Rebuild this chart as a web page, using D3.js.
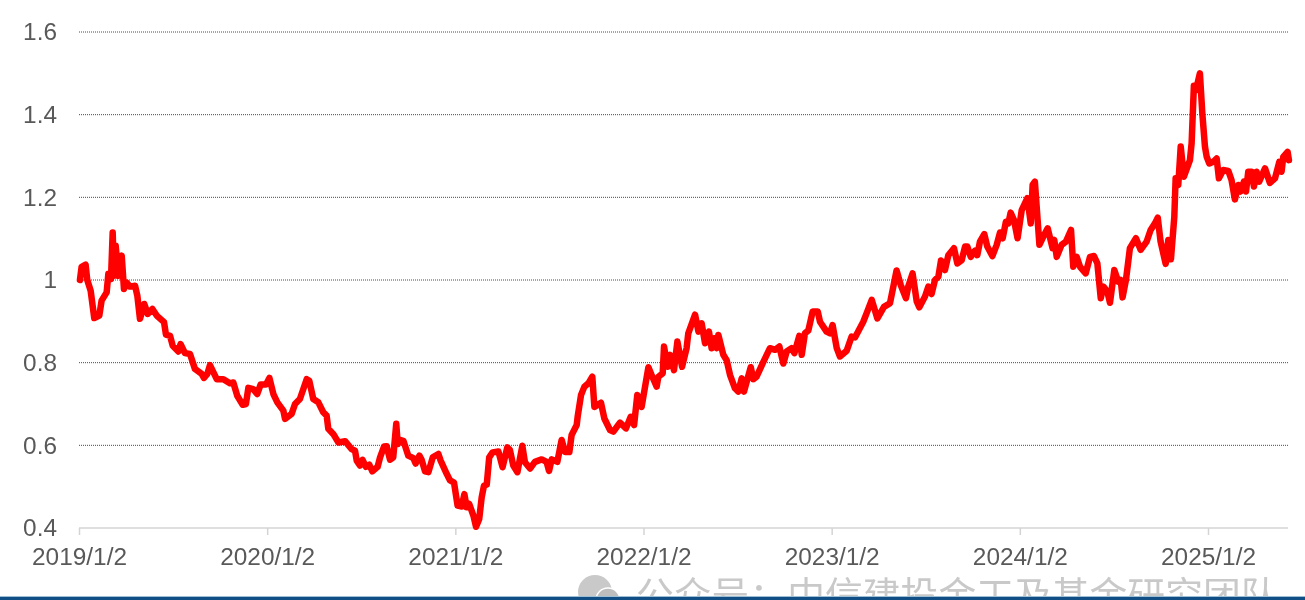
<!DOCTYPE html>
<html lang="zh">
<head>
<meta charset="utf-8">
<script src="https://cdn.jsdelivr.net/npm/d3@7/dist/d3.min.js"></script>
<style>
html,body{margin:0;padding:0;background:#fff;overflow:hidden}
svg{display:block;filter:blur(0.45px)}
text{font-family:"Liberation Sans",Arial,sans-serif}
</style>
</head>
<body>
<svg id="chart" width="1305" height="600"></svg>
<script>
const xTickYears = [0,1,2,3,4,5,6];
const xTickLabels = ["2019/1/2","2020/1/2","2021/1/2","2022/1/2","2023/1/2","2024/1/2","2025/1/2"];
const yTickValues = [0.4,0.6,0.8,1.0,1.2,1.4,1.6];
const yTickLabels = ["0.4","0.6","0.8","1","1.2","1.4","1.6"];
const watermarkText = "公众号：中信建投金工及基金研究团队";

// years elapsed since 2019/1/2
const yearsSinceStart = [
.005,.014,.035,.044,.062,.081,.108,.120,.147,.156,.170,.179,.186,.195,.209,.227,.239,.253,.271,.298,
.310,.324,.347,.365,.390,.413,.452,.462,.484,.498,.528,.540,.563,.590,.616,.652,.664,.682,.696,.732,
.767,.802,.820,.841,.870,.887,.900,.926,.947,.965,.994,1.012,1.033,1.054,1.086,1.095,1.130,1.148,1.174,1.21,
1.224,1.245,1.272,1.298,1.316,1.325,1.352,1.378,1.414,1.449,1.467,1.476,1.493,1.507,1.525,1.543,1.559,1.587,1.60,1.621,
1.635,1.653,1.67,1.686,1.694,1.706,1.724,1.75,1.777,1.789,1.809,1.821,1.839,1.857,1.88,1.91,1.922,1.954,1.972,1.993,
2.012,2.034,2.048,2.06,2.074,2.096,2.110,2.127,2.14,2.152,2.167,2.18,2.198,2.229,2.251,2.276,2.29,2.308,2.33,2.356,
2.37,2.397,2.423,2.459,2.485,2.498,2.512,2.542,2.565,2.583,2.606,2.618,2.645,2.650,2.668,2.686,2.707,2.728,2.739,2.774,
2.792,2.822,2.84,2.875,2.907,2.932,2.95,2.967,2.99,3.026,3.043,3.07,3.079,3.102,3.109,3.128,3.141,3.162,3.18,3.205,
3.229,3.238,3.274,3.292,3.309,3.327,3.348,3.362,3.375,3.389,3.398,3.424,3.442,3.46,3.486,3.504,3.522,3.534,3.57,3.584,
3.601,3.637,3.672,3.699,3.722,3.743,3.761,3.787,3.802,3.828,3.841,3.858,3.876,3.899,3.926,3.938,3.973,3.991,4.005,4.027,
4.044,4.08,4.106,4.124,4.168,4.186,4.213,4.243,4.278,4.31,4.345,4.367,4.395,4.407,4.43,4.452,4.466,4.496,4.514,4.531,
4.549,4.567,4.581,4.602,4.62,4.65,4.668,4.691,4.709,4.721,4.739,4.762,4.774,4.788,4.811,4.827,4.854,4.877,4.895,4.909,
4.926,4.939,4.951,4.969,4.988,5.01,5.04,5.058,5.068,5.08,5.104,5.125,5.148,5.174,5.183,5.196,5.222,5.245,5.272,5.284,
5.302,5.32,5.35,5.373,5.394,5.412,5.43,5.444,5.465,5.479,5.502,5.523,5.536,5.546,5.564,5.585,5.617,5.642,5.674,5.695,
5.718,5.733,5.748,5.775,5.789,5.803,5.821,5.828,5.842,5.855,5.872,5.904,5.913,5.925,5.936,5.957,5.97,5.984,5.993,6.007,
6.028,6.046,6.058,6.081,6.108,6.125,6.143,6.161,6.173,6.191,6.202,6.214,6.232,6.244,6.258,6.272,6.303,6.329,6.356,6.379,
6.391,6.40,6.423,6.43
];
const seriesValues = [
1.00,1.032,1.037,1.00,.974,.908,.914,.95,.97,1.015,1.002,1.115,1.01,1.083,1.01,1.059,.978,.994,.984,.986,
.962,.906,.942,.918,.93,.914,.898,.868,.865,.841,.827,.845,.823,.821,.785,.773,.763,.773,.794,.76,
.76,.75,.752,.72,.698,.70,.739,.736,.724,.747,.747,.763,.724,.704,.684,.664,.676,.70,.712,.76,
.756,.712,.704,.68,.672,.64,.627,.607,.61,.591,.587,.563,.551,.565,.548,.553,.537,.548,.571,.597,
.598,.565,.571,.652,.603,.613,.611,.575,.569,.556,.575,.565,.537,.535,.571,.579,.563,.531,.515,.510,
.454,.452,.482,.45,.458,.43,.403,.422,.474,.502,.505,.571,.583,.585,.547,.595,.589,.551,.535,.599,
.559,.544,.56,.566,.56,.538,.566,.56,.613,.584,.584,.625,.649,.669,.722,.742,.75,.766,.693,.703,
.665,.637,.633,.655,.641,.669,.649,.722,.693,.789,.77,.742,.766,.774,.839,.79,.819,.782,.851,.79,
.835,.871,.916,.875,.895,.847,.875,.835,.859,.835,.867,.819,.806,.77,.738,.73,.762,.73,.789,.76,
.766,.802,.835,.831,.839,.798,.827,.835,.823,.865,.819,.871,.878,.924,.924,.899,.875,.871,.891,.835,
.815,.829,.863,.861,.899,.92,.952,.907,.935,.944,1.023,.988,.956,.984,1.016,.948,.934,.96,.984,.966,
1.0,1.008,1.047,1.024,1.06,1.077,1.04,1.048,1.081,1.081,1.056,1.071,1.06,1.093,1.111,1.081,1.058,1.085,1.115,1.101,
1.141,1.137,1.163,1.145,1.101,1.169,1.198,1.137,1.23,1.238,1.085,1.105,1.125,1.077,1.097,1.056,1.085,1.093,1.121,1.032,
1.056,1.032,1.016,1.056,1.058,1.04,.956,.984,.972,.945,1.024,.996,1.0,.958,1.0,1.077,1.101,1.073,1.093,1.121,
1.137,1.151,1.093,1.039,1.097,1.05,1.153,1.246,1.23,1.323,1.25,1.29,1.331,1.47,1.459,1.5,1.402,1.322,1.298,1.282,
1.286,1.294,1.246,1.266,1.264,1.242,1.195,1.23,1.214,1.238,1.214,1.262,1.262,1.226,1.262,1.238,1.27,1.235,1.246,1.286,
1.262,1.298,1.31,1.29
];

const svg = d3.select("#chart");
const x = d3.scaleLinear().domain([0,6]).range([79,1208]);
const y = d3.scaleLinear().domain([0.4,1.6]).range([528,32]);
const gridRight = 1288, gridLeft = 79;
const labelColor = "#595959";

// horizontal grid
svg.append("g").selectAll("line")
  .data(yTickValues.filter(v => v > 0.4))
  .join("line")
  .attr("x1", gridLeft).attr("x2", gridRight)
  .attr("y1", d => y(d)).attr("y2", d => y(d))
  .attr("stroke", "#4a4a4a").attr("stroke-width", 1).attr("stroke-dasharray", "1 1");

// y axis
const yAxis = d3.axisLeft(y).tickValues(yTickValues)
  .tickSize(0).tickPadding(22)
  .tickFormat((d,i) => yTickLabels[i]);
const gy = svg.append("g").attr("transform", `translate(${gridLeft},0)`).call(yAxis);
gy.select(".domain").remove();
gy.selectAll("text").attr("font-size", 24.4).attr("fill", labelColor)
  .style("font-family", '"Liberation Sans",Arial,sans-serif');

// x axis
const xAxis = d3.axisBottom(x).tickValues(xTickYears)
  .tickSize(7).tickPadding(13)
  .tickFormat((d,i) => xTickLabels[i]);
const gx = svg.append("g").attr("transform", `translate(0,${y(0.4)})`).call(xAxis);
gx.select(".domain").remove();
gx.selectAll("line").attr("stroke", "#d4d4d4").attr("stroke-width", 1.5);
gx.selectAll("text").attr("font-size", 24.4).attr("fill", labelColor)
  .style("font-family", '"Liberation Sans",Arial,sans-serif');
gx.append("line").attr("x1", gridLeft).attr("x2", gridRight).attr("y1", 0).attr("y2", 0)
  .attr("stroke", "#d4d4d4").attr("stroke-width", 1.5);

// series
const line = d3.line().x((d,i) => x(yearsSinceStart[i])).y(d => y(d));
svg.append("path").datum(seriesValues)
  .attr("d", line).attr("fill", "none").attr("stroke", "#ff0000")
  .attr("stroke-width", 6.5).attr("stroke-linejoin", "round").attr("stroke-linecap", "round");

// watermark, clipped by the strip along the bottom edge
const wm = svg.append("g");
wm.append("circle").attr("cx", 595).attr("cy", 592).attr("r", 17).attr("fill", "#c9c9c9");
wm.append("circle").attr("cx", 608).attr("cy", 600).attr("r", 12).attr("fill", "#bdbdbd").attr("stroke", "#fff").attr("stroke-width", 1.5);
wm.append("text").attr("x", 636).attr("y", 609).text(watermarkText)
  .attr("font-size", 37.8).attr("fill", "#c9c9c9")
  .style("font-family", '"Noto Sans CJK SC",sans-serif');
svg.append("rect").attr("x", 0).attr("y", 597).attr("width", 1305).attr("height", 3).attr("fill", "#0f4f86");
svg.append("rect").attr("x", 0).attr("y", 596).attr("width", 1305).attr("height", 1).attr("fill", "#9fbdd3");
</script>
</body>
</html>
